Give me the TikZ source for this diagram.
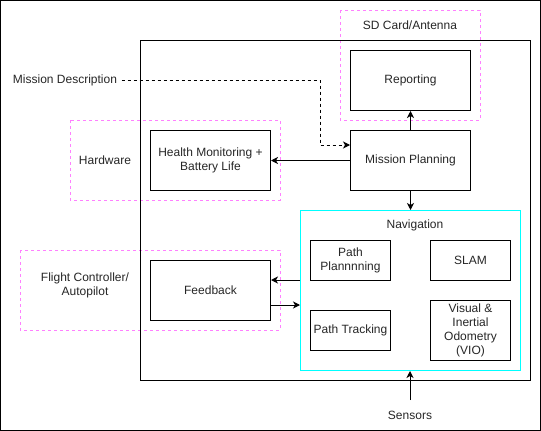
\documentclass[tikz,border=0pt]{standalone}
\usepackage{fontspec}
\setmainfont{Liberation Sans}
\usetikzlibrary{arrows.meta}
\definecolor{pinkd}{HTML}{FF80FF}
\definecolor{navc}{HTML}{00FFFF}
\begin{document}
\begin{tikzpicture}[x=1pt,y=-1pt,line width=1pt,
  every node/.style={font=\fontsize{12}{14}\selectfont,align=center,inner sep=0pt,text=black!85},
  blk/.style={draw=black,rectangle,anchor=north west},
  grp/.style={draw=pinkd,dash pattern=on 3pt off 3pt,line width=0.8pt},
  arr/.style={-{Stealth[length=7pt,width=7pt,inset=2pt]}}]
\useasboundingbox (0,0) rectangle (541,431);
\draw (0.5,0.5) rectangle (540.5,430.5);
% groups
\draw[grp] (340,10) rectangle (480,120);
\draw[grp] (70,120) rectangle (280,200);
\draw[grp] (20,250) rectangle (280,330);
% main box
\draw (140,40) rectangle (530,380);
\node (sdl) at (410,25) {SD Card/Antenna};
\node (hwl) at (105,160) {Hardware};
\node (fcl) at (85,285) {Flight Controller/\\Autopilot};
% boxes
\node[blk,minimum width=120pt,minimum height=60pt] (rep) at (350,50) {};
\node at (rep.center) {Reporting};
\node[blk,minimum width=120pt,minimum height=60pt] (mp) at (350,130) {};
\node at (mp.center) {Mission Planning};
\node[blk,minimum width=120pt,minimum height=60pt] (hm) at (150,130) {};
\node at (hm.center) {Health Monitoring +\\Battery Life};
\node[blk,minimum width=120pt,minimum height=60pt] (fb) at (150,260) {};
\node at (fb.center) {Feedback};
% navigation
\node[blk,draw=navc,minimum width=220pt,minimum height=160pt] (nav) at (300,210) {};
\node at (415,225) {Navigation};
\node[blk,minimum width=80pt,minimum height=40pt] (pp) at (310,240) {};
\node at (pp.center) {Path\\Plannnning};
\node[blk,minimum width=80pt,minimum height=40pt] (slam) at (430,240) {};
\node at (slam.center) {SLAM};
\node[blk,minimum width=80pt,minimum height=40pt] (pt) at (310,310) {};
\node at (pt.center) {Path Tracking};
\node[blk,minimum width=80pt,minimum height=60pt] (vio) at (430,300) {};
\node at (vio.center) {Visual \&\\Inertial\\Odometry\\(VIO)};
% texts
\node (md) at (65,80) {Mission Description};
\node (sen) at (410,415) {Sensors};
\coordinate (senT) at (410,400);
% connectors
\draw[arr,dash pattern=on 3pt off 3pt] (md.east) ++(4,0) -- (320,80) -- (320,145) -- (mp.west |- 0,145);
\draw[arr] (mp.north) -- (rep.south);
\draw[arr] (mp.west) -- (hm.east);
\draw[arr] (mp.south) -- (nav.north -| mp.south);
\draw[arr] (nav.west |- 0,280) -- (fb.east |- 0,280);
\draw[arr] (fb.east |- 0,305) -- (nav.west |- 0,305);
\draw[arr] (senT) -- (nav.south -| senT);
\end{tikzpicture}
\end{document}
